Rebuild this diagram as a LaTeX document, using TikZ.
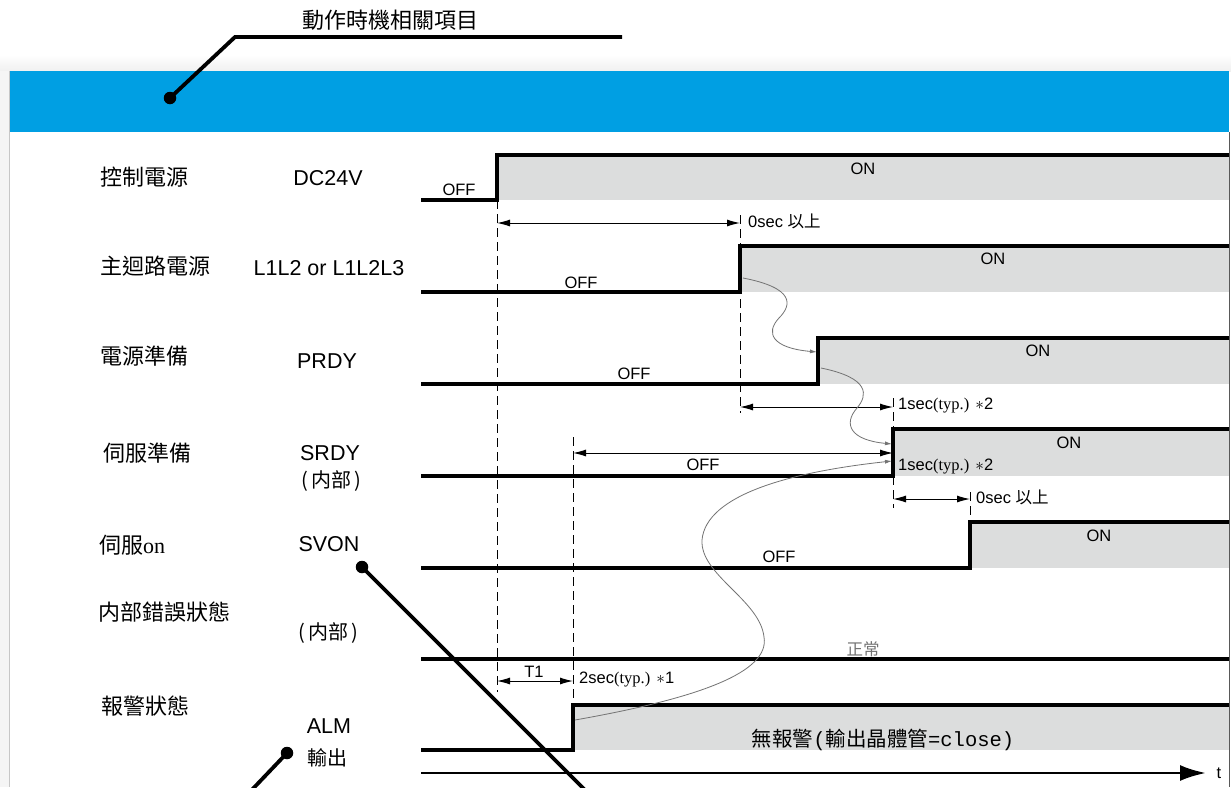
\documentclass[tikz,border=0pt]{standalone}
\usepackage{fontspec}
\setmainfont{Liberation Sans}
\newfontfamily\cjk{Noto Sans CJK TC}
\newfontfamily\serifr{Liberation Serif}
\newfontfamily\monof{Liberation Mono}
\usetikzlibrary{arrows.meta}
\definecolor{bandblue}{RGB}{0,159,227}
\definecolor{onfill}{RGB}{220,221,221}
\tikzset{
  sig/.style={line width=3.1pt, line join=miter},
  onbox/.style={fill=onfill},
  guide/.style={line width=0.9pt, dash pattern=on 9pt off 5pt},
  dimline/.style={line width=1pt, {Latex[length=13pt,width=7pt]}-{Latex[length=13pt,width=7pt]}},
  flowline/.style={line width=0.8pt, draw=black!55, -{Latex[length=7pt,width=4pt]}},
  leader/.style={line width=3.8pt},
  ldot/.style={circle, fill=black, inner sep=0pt, minimum size=12.5pt},
  lab/.style={font=\cjk\fontsize{22}{24}\selectfont, anchor=west, inner sep=0pt},
  sname/.style={font=\fontsize{21.5}{24}\selectfont, inner sep=0pt},
  st/.style={font=\fontsize{16.5}{18}\selectfont, inner sep=0pt},
  ann/.style={font=\fontsize{16.5}{18}\selectfont, anchor=west, inner sep=0pt},
}
\begin{document}
\begin{tikzpicture}[x=1pt,y=-1pt]
\useasboundingbox (0,0) rectangle (1231,787);
\clip (0,0) rectangle (1231,787);
\fill[white] (0,0) rectangle (1231,787);
% panel shadow and band
\shade[top color=white, bottom color=black!6] (0,55) rectangle (1231,71);
\fill[black!4] (0,71) rectangle (9,787);
\fill[bandblue] (9,71) rectangle (1229,132);
\draw[black!22, line width=0.8pt] (9,71) -- (9,787);
\draw[black!65, line width=1.2pt] (1229.5,132) -- (1229.5,787);

% title and leader
\node[font=\cjk\fontsize{22}{24}\selectfont, inner sep=0pt] (title) at (390,20) {動作時機相關項目};
\node[ldot] (d1) at (170,98) {};
\coordinate (t1a) at (235,37);
\coordinate (t1b) at (622,37);
\draw[leader] (d1.center) -- (t1a) -- (t1b);

% left labels
\node[lab] (l1) at (100,177) {控制電源};
\node[lab] (l2) at (100,266) {主迴路電源};
\node[lab] (l3) at (100,356) {電源準備};
\node[lab] (l4) at (103,453) {伺服準備};
\node[lab] (l5) at (99,545) {伺服{\serifr on}};
\node[lab] (l6) at (98,612) {内部錯誤狀態};
\node[lab] (l7) at (101,706) {報警狀態};

% signal names
\node[sname] (n1) at (328,178) {DC24V};
\node[sname] (n2) at (329,268) {L1L2 or L1L2L3};
\node[sname] (n3) at (327,361) {PRDY};
\node[sname] (n4) at (330,453) {SRDY};
\node[sname, font=\cjk\fontsize{20}{22}\selectfont] (n4b) at (331,481) {(\hspace{3pt}内部\hspace{3pt})};
\node[sname] (n5) at (329,544) {SVON};
\node[sname, font=\cjk\fontsize{20}{22}\selectfont] (n6b) at (328,633) {(\hspace{3pt}内部\hspace{3pt})};
\node[sname] (n7) at (329,726) {ALM};
\node[sname, font=\cjk\fontsize{20}{22}\selectfont] (n7b) at (327,758) {輸出};

% fills
\fill[onbox] (497,155) rectangle (1229,200);
\fill[onbox] (740,246) rectangle (1229,292);
\fill[onbox] (818,338) rectangle (1229,384);
\fill[onbox] (893,429) rectangle (1229,476);
\fill[onbox] (970,522) rectangle (1229,568);
\fill[onbox] (573,705) rectangle (1229,750);

% guides
\draw[guide] (497,200) -- (497,692);
\draw[guide] (740,215) -- (740,413);
\draw[guide] (573,437) -- (573,705);
\draw[guide] (893,398) -- (893,429);
\draw[guide] (893,476) -- (893,508);
\draw[guide] (970,492) -- (970,522);

% waveforms
\draw[sig] (421,200) -- (497,200) -- (497,155) -- (1229,155);
\draw[sig] (421,292) -- (740,292) -- (740,246) -- (1229,246);
\draw[sig] (421,384) -- (818,384) -- (818,338) -- (1229,338);
\draw[sig] (421,476) -- (893,476) -- (893,429) -- (1229,429);
\draw[sig] (421,568) -- (970,568) -- (970,522) -- (1229,522);
\draw[sig] (421,659) -- (1229,659);
\draw[sig] (421,750) -- (573,750) -- (573,705) -- (1229,705);

% state texts
\node[st] (off1) at (459,190) {OFF};
\node[st] (on1) at (863,169) {ON};
\node[st] (off2) at (581,283) {OFF};
\node[st] (on2) at (993,259) {ON};
\node[st] (off3) at (634,374) {OFF};
\node[st] (on3) at (1038,351) {ON};
\node[st] (off4) at (703,465) {OFF};
\node[st] (on4) at (1069,443) {ON};
\node[st] (off5) at (779,557) {OFF};
\node[st] (on5) at (1099,536) {ON};
\node[st, font=\cjk\fontsize{16.5}{18}\selectfont, text=black!55] (norm) at (863,649) {正常};
\node[inner sep=0pt] (alm) at (883,740) {\fontsize{20.5}{22}\selectfont{\cjk 無報警}{\monof(}{\cjk 輸出晶體管}{\monof=close)}};

% dimension arrows
\coordinate (da1) at (497,223); \coordinate (db1) at (740,223);
\draw[dimline] (da1) -- (db1);
\node[ann] (t01) at (748,221) {0sec {\cjk 以上}};
\coordinate (da2) at (740,407); \coordinate (db2) at (893,407);
\draw[dimline] (da2) -- (db2);
\node[ann] (t02) at (898,406) {1sec{\serifr(typ.)} $\ast$2};
\coordinate (da3) at (573,453); \coordinate (db3) at (893,453);
\draw[dimline] (da3) -- (db3);
\node[ann] (t03) at (898,467) {1sec{\serifr(typ.)} $\ast$2};
\coordinate (da4) at (893,499); \coordinate (db4) at (970,499);
\draw[dimline] (da4) -- (db4);
\node[ann] (t04) at (976,497) {0sec {\cjk 以上}};
\coordinate (da5) at (497,681); \coordinate (db5) at (573,681);
\draw[dimline] (da5) -- (db5);
\node[st] (tt1) at (534,672) {T1};
\node[ann] (t05) at (579,680) {2sec{\serifr(typ.)} $\ast$1};

% causal curves
\coordinate (c1s) at (743,278); \coordinate (c1e) at (817,352);
\draw[flowline] (c1s) .. controls (795,288) and (792,305) .. (779,318) .. controls (765,333) and (772,348) .. (c1e);
\coordinate (c2s) at (821,368); \coordinate (c2e) at (892,444);
\draw[flowline] (c2s) .. controls (870,378) and (868,395) .. (857,408) .. controls (843,424) and (850,440) .. (c2e);
\coordinate (c3s) at (575,720); \coordinate (c3e) at (892,461);
\draw[flowline] (c3s) .. controls (700,698) and (770,672) .. (764,637) .. controls (760,600) and (700,575) .. (702,540) .. controls (706,495) and (790,472) .. (c3e);

% time axis
\coordinate (ax0) at (421,773); \coordinate (ax1) at (1206,773);
\draw[line width=2.8pt, -{Latex[length=26pt,width=16pt]}] (ax0) -- (ax1);
\node[st] (tlab) at (1219,773) {t};

% other leaders
\node[ldot] (d2) at (362,567) {};
\coordinate (d2e) at (595,800);
\draw[leader] (d2.center) -- (d2e);
\node[ldot] (d3) at (287,753) {};
\coordinate (d3e) at (246,796);
\draw[leader] (d3.center) -- (d3e);
\end{tikzpicture}
\end{document}
